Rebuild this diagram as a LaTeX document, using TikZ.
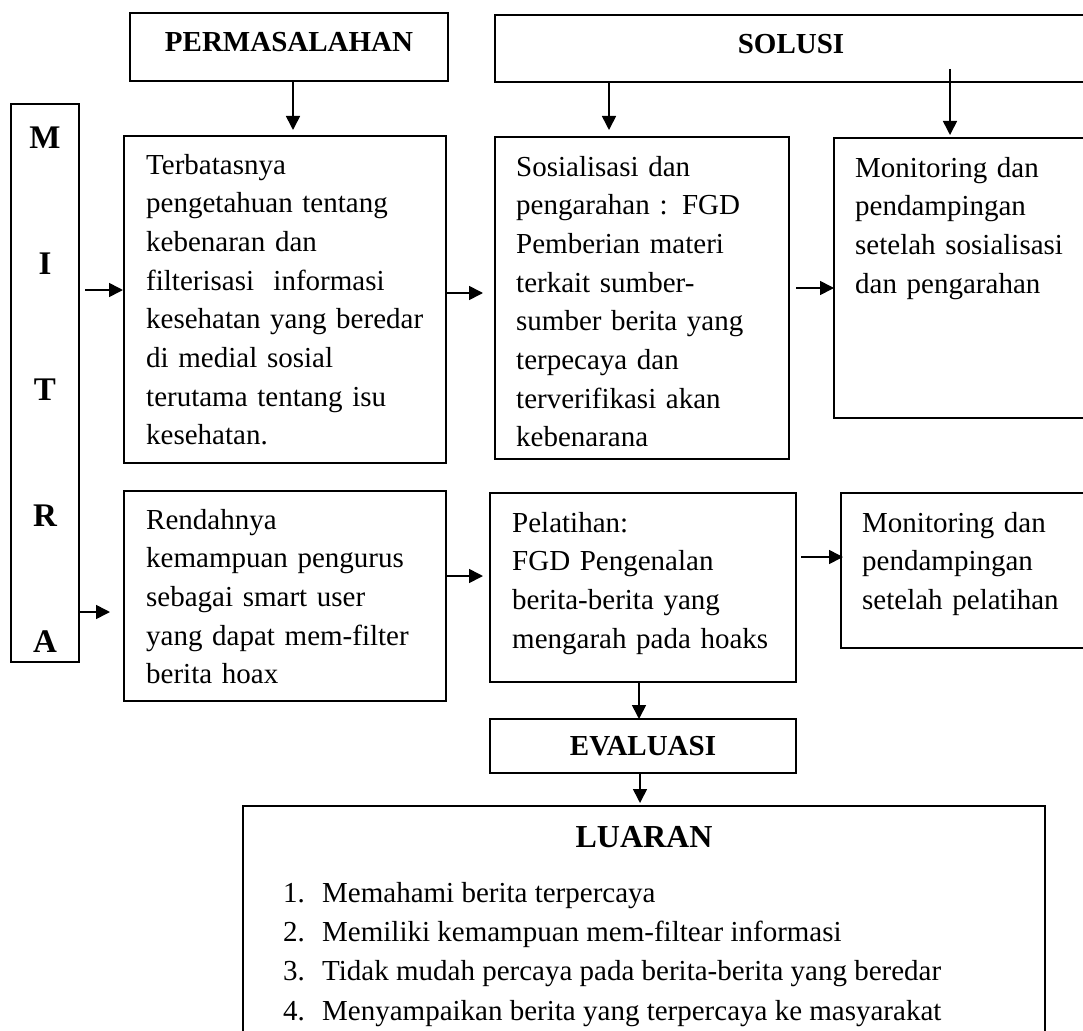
\documentclass[tikz,border=0pt]{standalone}
\usepackage{fontspec}
\setmainfont{Liberation Serif}
\usetikzlibrary{arrows.meta}

\begin{document}
\begin{tikzpicture}[x=1pt, y=-1pt,
  every node/.style={font=\fontsize{29pt}{38.7pt}\selectfont},
  box/.style={draw, line width=2pt, anchor=north west, inner sep=0, outer sep=0},
  head/.style={box, font=\fontsize{29pt}{38.7pt}\selectfont\bfseries},
  txt/.style={anchor=base west, inner sep=0, text width=340pt, align=left},
  letter/.style={inner sep=0, font=\fontsize{33pt}{40pt}\selectfont\bfseries},
  arr/.style={line width=1.6pt, -{Triangle[length=14pt,width=14pt]}}]
  \useasboundingbox (0,0) rectangle (1083,1030);
  \clip (0,0) rectangle (1083,1030);
  % headings
  \node[head, minimum width=318pt, minimum height=68pt, text depth=10pt] (perm) at (130,13) {PERMASALAHAN};
  \node[head, minimum width=592pt, minimum height=67pt, text depth=10pt] (solusi) at (495,15) {SOLUSI};
  % mitra
  \node[box, minimum width=68pt, minimum height=558pt] (mitra) at (11,104) {};
  \foreach \l [count=\i] in {M,I,T,R,A} {
    \node[letter] (mitra\i) at ({45},{12+126*\i}) {\l};
  }
  % boxes
  \node[box, minimum width=322pt, minimum height=327pt] (prob1) at (124,136) {};
  \node[box, minimum width=294pt, minimum height=322pt] (sol1) at (495,137) {};
  \node[box, minimum width=260pt, minimum height=280pt] (mon1) at (834,138) {};
  \node[box, minimum width=322pt, minimum height=210pt] (prob2) at (124,491) {};
  \node[box, minimum width=306pt, minimum height=189pt] (sol2) at (490,493) {};
  \node[box, minimum width=250pt, minimum height=155pt] (mon2) at (841,493) {};
  \node[head, minimum width=306pt, minimum height=54pt] (eval) at (490,719) {EVALUASI};
  \node[box, minimum width=802pt, minimum height=240pt] (luaran) at (243,806) {};
  % texts
  \node[txt] (prob1txt) at (146,174) {Terbatasnya\\ pengetahuan tentang\\ kebenaran dan\\ filterisasi~ informasi\\ kesehatan yang beredar\\ di medial sosial\\ terutama tentang isu\\ kesehatan.};
  \node[txt] (sol1txt) at (516,176) {Sosialisasi dan\\ pengarahan : FGD\\ Pemberian materi\\ terkait sumber-\\ sumber berita yang\\ terpecaya dan\\ terverifikasi akan\\ kebenarana};
  \node[txt] (mon1txt) at (855,177) {Monitoring dan\\ pendampingan\\ setelah sosialisasi\\ dan pengarahan};
  \node[txt] (prob2txt) at (146,529) {Rendahnya\\ kemampuan pengurus\\ sebagai smart user\\ yang dapat mem-filter\\ berita hoax};
  \node[txt] (sol2txt) at (512,532) {Pelatihan:\\ FGD Pengenalan\\ berita-berita yang\\ mengarah pada hoaks};
  \node[txt] (mon2txt) at (862,532) {Monitoring dan\\ pendampingan\\ setelah pelatihan};
  \node[inner sep=0, font=\fontsize{32pt}{38pt}\selectfont\bfseries] (luaranttl) at (644,837) {LUARAN};
  \foreach \t [count=\i] in {Memahami berita terpercaya, Memiliki kemampuan mem-filtear informasi, Tidak mudah percaya pada berita-berita yang beredar, Menyampaikan berita yang terpercaya ke masyarakat} {
    \node[anchor=base west, inner sep=0] (item\i) at ({283},{863+39.3*\i}) {\makebox[39pt][l]{\i.}\t};
  }
  % arrows
  \coordinate (permout) at ([xshift=4pt]perm.south);
  \draw[arr, shorten >=6pt] (permout) -- (permout |- prob1.north);
  \coordinate (s1in) at ([xshift=-33pt]sol1.north);
  \draw[arr, shorten >=7pt] (s1in |- solusi.south) -- (s1in);
  \coordinate (m1start) at (950,69);
  \draw[arr, shorten >=3pt] (m1start) -- (m1start |- mon1.north);
  \coordinate (p1in) at ([yshift=9.5pt]prob1.west);
  \draw[arr, shorten <=6pt, shorten >=1pt] (p1in -| mitra.east) -- (p1in);
  \coordinate (p1out) at ([yshift=6.5pt]prob1.east);
  \draw[arr, shorten >=12pt] (p1out) -- (p1out -| sol1.west);
  \coordinate (s1out) at ([yshift=10pt]sol1.east);
  \draw[arr, shorten <=7pt] (s1out) -- (s1out -| mon1.west);
  \coordinate (p2in) at ([yshift=-16pt]prob2.west);
  \draw[arr, shorten >=14pt] (p2in -| mitra.east) -- (p2in);
  \coordinate (p2out) at ([yshift=20pt]prob2.east);
  \draw[arr, shorten >=7pt] (p2out) -- (p2out -| sol2.west);
  \coordinate (s2out) at ([yshift=30.5pt]sol2.east);
  \draw[arr, shorten <=5pt, shorten >=-2pt] (s2out) -- (s2out -| mon2.west);
  \coordinate (evin) at ([xshift=-4pt]eval.north);
  \draw[arr] (evin |- sol2.south) -- (evin);
  \coordinate (luin) at ([xshift=-4pt]luaran.north);
  \draw[arr, shorten >=3pt] (luin |- eval.south) -- (luin);
\end{tikzpicture}
\end{document}
